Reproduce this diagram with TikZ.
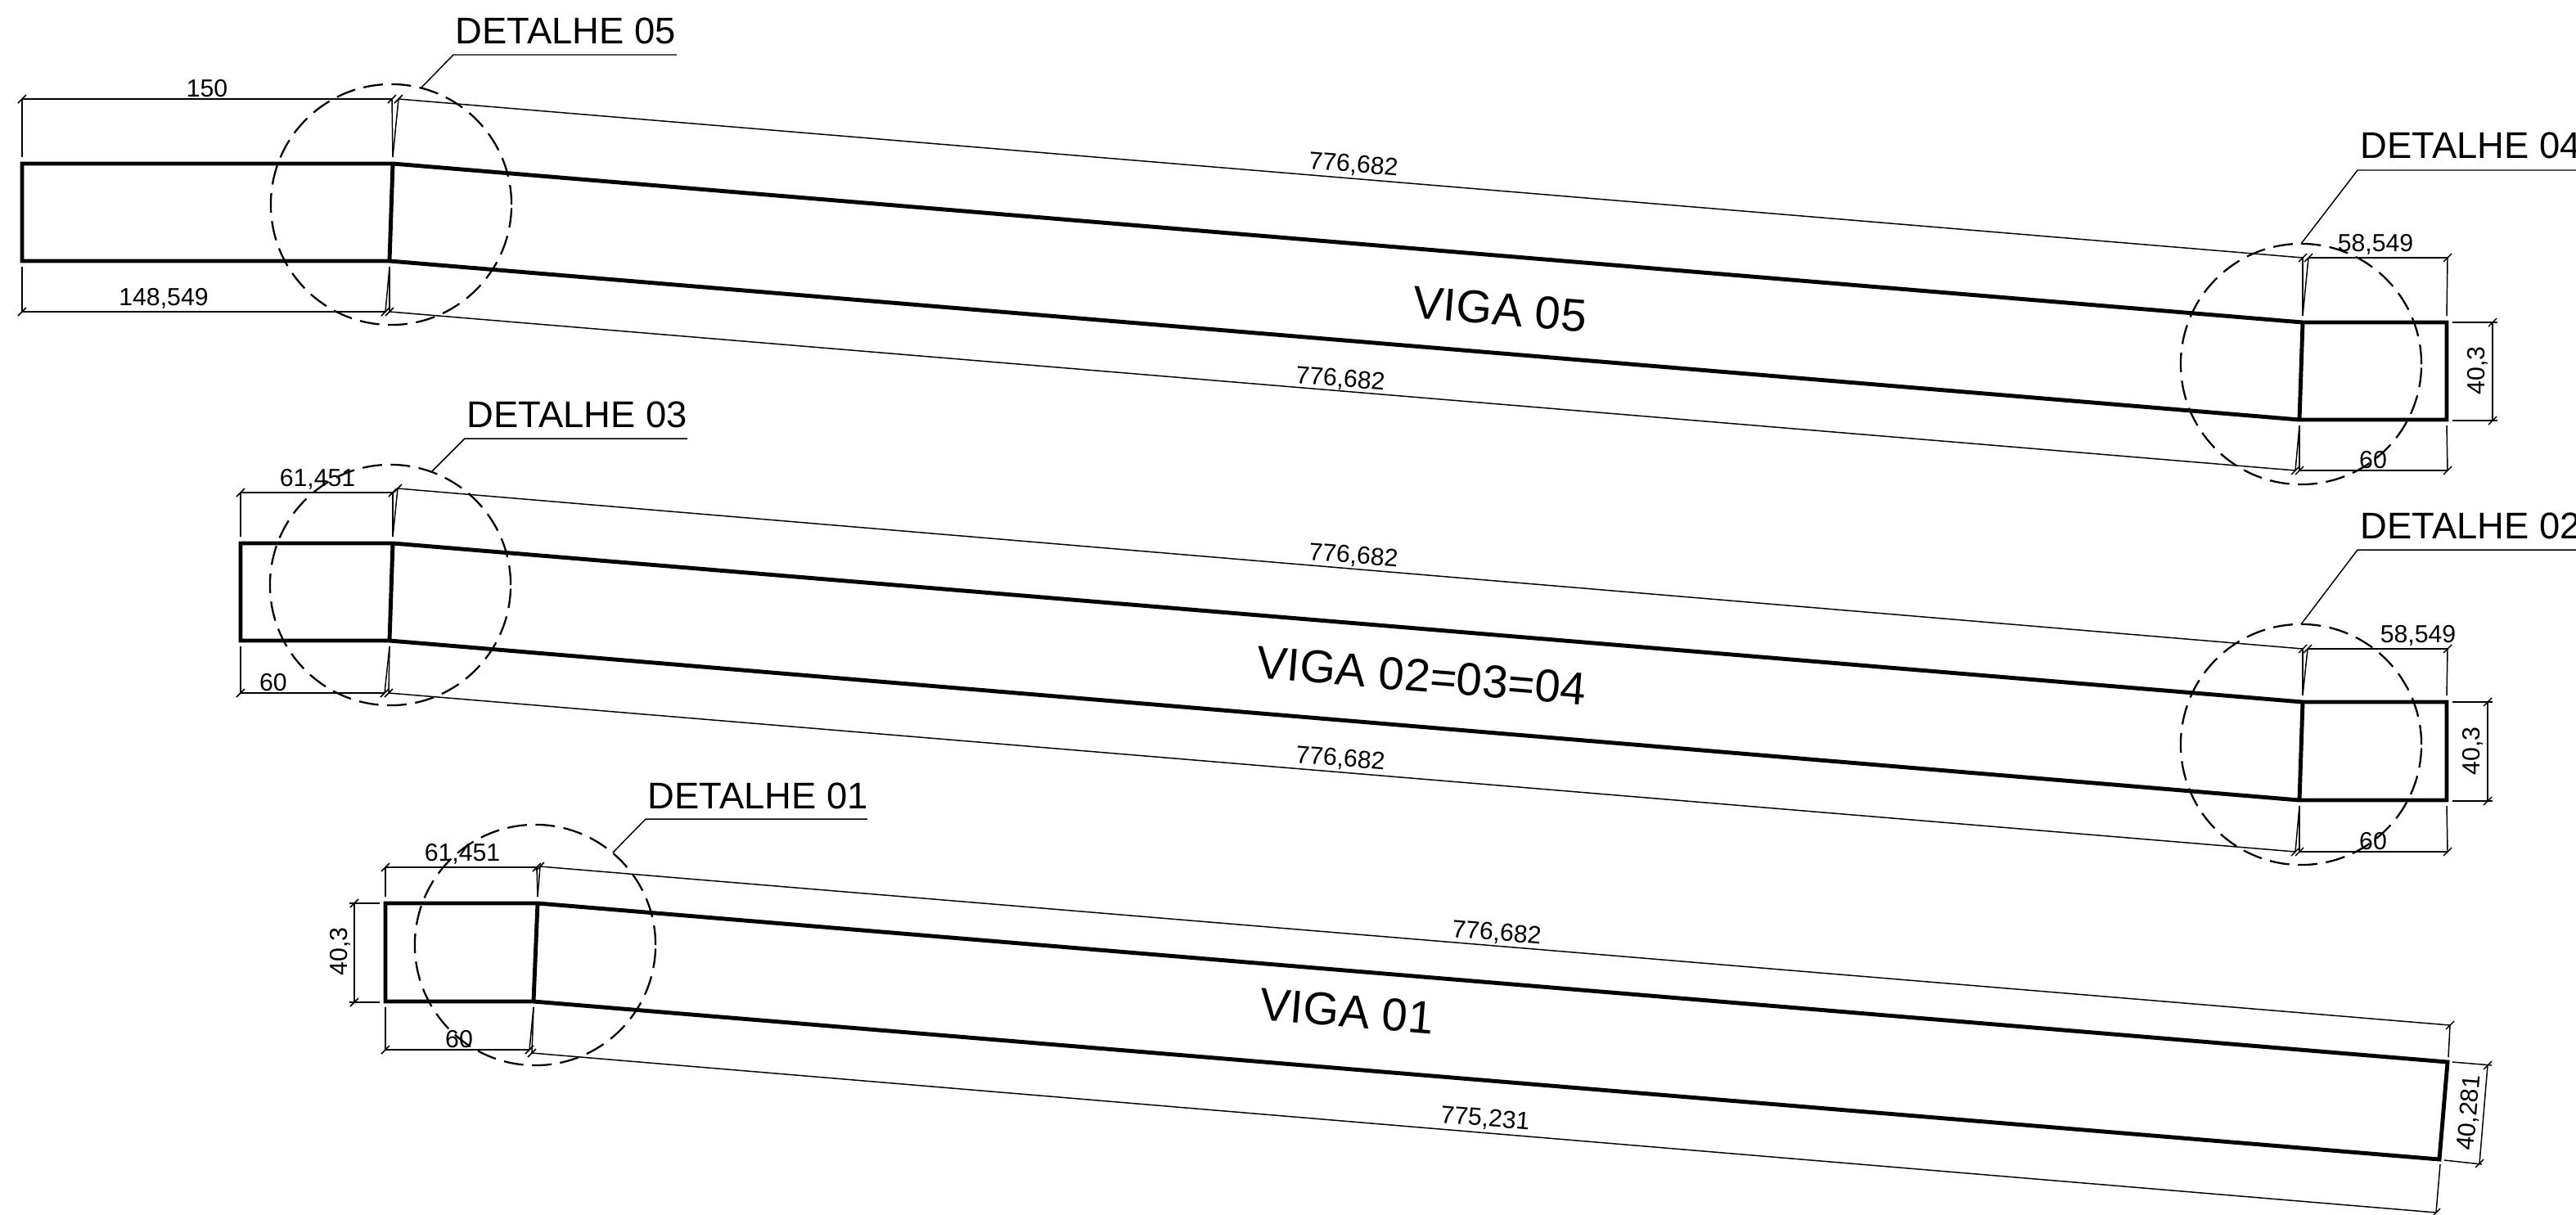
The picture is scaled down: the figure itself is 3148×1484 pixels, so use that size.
\documentclass[tikz,border=0pt]{standalone}
\usepackage{fontspec}
\setmainfont{Liberation Sans}
\usetikzlibrary{calc}
\tikzset{
  beamline/.style={line width=1.4pt,line join=miter},
  thinline/.style={line width=0.42pt},
  detailring/.style={line width=0.65pt,dash pattern=on 6.8pt off 3pt},
  dimtext/.style={font=\fontsize{8.6}{10}\selectfont,inner sep=0pt},
  detailtext/.style={font=\fontsize{12.9}{15}\selectfont,inner sep=0pt,anchor=base west},
  beamtext/.style={font=\fontsize{16}{19}\selectfont,inner sep=0pt,rotate=-4.77}
}
\newcommand{\dimtick}[1]{\draw[thinline] ($(#1)+(-5,5)$) -- ($(#1)+(5,-5)$);}
\begin{document}
\begin{tikzpicture}[x=0.01cm,y=-0.01cm]
  \useasboundingbox (0,0) rectangle (3148,1484);
  % beam 05
  \coordinate (v5tl) at (27,200);
  \coordinate (v5tk) at (480,200);
  \coordinate (v5tr) at (2814,394);
  \coordinate (v5te) at (2990,394);
  \coordinate (v5be) at (2990,513);
  \coordinate (v5br) at (2810,513);
  \coordinate (v5bk) at (476,319);
  \coordinate (v5bl) at (27,319);
  \draw[beamline] (v5tl) -- (v5tk) -- (v5tr) -- (v5te) -- (v5be) -- (v5br) -- (v5bk) -- (v5bl) -- cycle;
  \draw[beamline] (v5tk) -- (v5bk);
  \draw[beamline] (v5tr) -- (v5br);
  \coordinate (d5a) at (27,121);
  \coordinate (d5b) at (479,121);
  \coordinate (d5c) at (487,121);
  \coordinate (d5d) at (2814,315);
  \coordinate (d5e) at (2821,315);
  \coordinate (d5f) at (2991,315);
  \coordinate (d5g) at (27,381);
  \coordinate (d5h) at (471,381);
  \coordinate (d5i) at (476,381);
  \coordinate (d5j) at (2805,575);
  \coordinate (d5k) at (2810,575);
  \coordinate (d5m) at (2991,575);
  \coordinate (d5n) at (3046,394);
  \coordinate (d5o) at (3046,514);
  \begin{scope}[thinline]
    \draw (d5a) -- (d5b);
    \draw (d5c) -- (d5d);
    \draw (d5e) -- (d5f);
    \draw (d5g) -- (d5h);
    \draw (d5i) -- (d5j);
    \draw (d5k) -- (d5m);
    \draw (d5n) -- (d5o);
    \draw (d5a) -- ($(v5tl)+(0,-8)$);
    \draw (d5b) -- ($(v5tk)+(0,-8)$);
    \draw (d5c) -- ($(v5tk)+(0,-8)$);
    \draw (d5d) -- ($(v5tr)+(0,-8)$);
    \draw (d5e) -- ($(v5tr)+(0,-8)$);
    \draw (d5f) -- ($(v5te)+(0,-8)$);
    \draw (d5g) -- ($(v5bl)+(0,7)$);
    \draw (d5h) -- ($(v5bk)+(0,7)$);
    \draw (d5i) -- ($(v5bk)+(0,7)$);
    \draw (d5j) -- ($(v5br)+(0,7)$);
    \draw (d5k) -- ($(v5br)+(0,7)$);
    \draw (d5m) -- ($(v5be)+(0,7)$);
    \draw ($(v5te)+(7,0)$) -- ($(d5n)+(6,0)$);
    \draw ($(v5be)+(7,1)$) -- ($(d5o)+(6,0)$);
  \end{scope}
  \foreach \p in {d5a,d5b,d5c,d5d,d5e,d5f,d5g,d5h,d5i,d5j,d5k,d5m,d5n,d5o} {\dimtick{\p}}
  % beam 02=03=04
  \coordinate (v3tl) at (294,664);
  \coordinate (v3tk) at (480,664);
  \coordinate (v3tr) at (2814,858);
  \coordinate (v3te) at (2990,858);
  \coordinate (v3be) at (2990,978);
  \coordinate (v3br) at (2810,978);
  \coordinate (v3bk) at (476,783);
  \coordinate (v3bl) at (294,783);
  \draw[beamline] (v3tl) -- (v3tk) -- (v3tr) -- (v3te) -- (v3be) -- (v3br) -- (v3bk) -- (v3bl) -- cycle;
  \draw[beamline] (v3tk) -- (v3bk);
  \draw[beamline] (v3tr) -- (v3br);
  \coordinate (d3a) at (294,602);
  \coordinate (d3b) at (480,602);
  \coordinate (d3c) at (486,597);
  \coordinate (d3d) at (2814,793);
  \coordinate (d3e) at (2820,793);
  \coordinate (d3f) at (2991,793);
  \coordinate (d3g) at (294,847);
  \coordinate (d3h) at (470,847);
  \coordinate (d3i) at (475,847);
  \coordinate (d3j) at (2805,1041);
  \coordinate (d3k) at (2810,1041);
  \coordinate (d3m) at (2991,1041);
  \coordinate (d3n) at (3040,858);
  \coordinate (d3o) at (3040,979);
  \begin{scope}[thinline]
    \draw (d3a) -- (d3b);
    \draw (d3c) -- (d3d);
    \draw (d3e) -- (d3f);
    \draw (d3g) -- (d3h);
    \draw (d3i) -- (d3j);
    \draw (d3k) -- (d3m);
    \draw (d3n) -- (d3o);
    \draw (d3a) -- ($(v3tl)+(0,-8)$);
    \draw (d3b) -- ($(v3tk)+(0,-8)$);
    \draw (d3c) -- ($(v3tk)+(0,-8)$);
    \draw (d3d) -- ($(v3tr)+(0,-8)$);
    \draw (d3e) -- ($(v3tr)+(0,-8)$);
    \draw (d3f) -- ($(v3te)+(0,-8)$);
    \draw (d3g) -- ($(v3bl)+(0,7)$);
    \draw (d3h) -- ($(v3bk)+(0,7)$);
    \draw (d3i) -- ($(v3bk)+(0,7)$);
    \draw (d3j) -- ($(v3br)+(0,7)$);
    \draw (d3k) -- ($(v3br)+(0,7)$);
    \draw (d3m) -- ($(v3be)+(0,7)$);
    \draw ($(v3te)+(7,0)$) -- ($(d3n)+(6,0)$);
    \draw ($(v3be)+(7,1)$) -- ($(d3o)+(6,0)$);
  \end{scope}
  \foreach \p in {d3a,d3b,d3c,d3d,d3e,d3f,d3g,d3h,d3i,d3j,d3k,d3m,d3n,d3o} {\dimtick{\p}}
  % beam 01
  \coordinate (v1tl) at (471,1104);
  \coordinate (v1tk) at (657,1104);
  \coordinate (v1te) at (2991,1298);
  \coordinate (v1be) at (2981,1417);
  \coordinate (v1bk) at (652,1224);
  \coordinate (v1bl) at (471,1224);
  \draw[beamline] (v1tl) -- (v1tk) -- (v1te) -- (v1be) -- (v1bk) -- (v1bl) -- cycle;
  \draw[beamline] (v1tk) -- (v1bk);
  \coordinate (d1a) at (471,1060);
  \coordinate (d1b) at (656,1060);
  \coordinate (d1c) at (660,1059);
  \coordinate (d1d) at (2994,1253);
  \coordinate (d1g) at (471,1283);
  \coordinate (d1h) at (647,1283);
  \coordinate (d1i) at (650,1287);
  \coordinate (d1j) at (2977,1482);
  \coordinate (d1n) at (433,1104);
  \coordinate (d1o) at (433,1225);
  \coordinate (d1p) at (3040,1302);
  \coordinate (d1q) at (3030,1422);
  \begin{scope}[thinline]
    \draw (d1a) -- (d1b);
    \draw (d1c) -- (d1d);
    \draw (d1g) -- (d1h);
    \draw (d1i) -- (d1j);
    \draw (d1n) -- (d1o);
    \draw (d1p) -- (d1q);
    \draw (d1a) -- ($(v1tl)+(0,-8)$);
    \draw (d1b) -- ($(v1tk)+(0,-8)$);
    \draw (d1c) -- ($(v1tk)+(0,-8)$);
    \draw (d1d) -- ($(v1te)+(1,-6)$);
    \draw (d1g) -- ($(v1bl)+(0,7)$);
    \draw (d1h) -- ($(v1bk)+(0,7)$);
    \draw (d1i) -- ($(v1bk)+(0,7)$);
    \draw (d1j) -- ($(v1be)+(1,6)$);
    \draw ($(v1tl)+(-7,0)$) -- ($(d1n)+(-6,0)$);
    \draw ($(v1bl)+(-7,1)$) -- ($(d1o)+(-6,0)$);
    \draw ($(v1te)+(6,0)$) -- ($(d1p)+(5,0)$);
    \draw ($(v1be)+(6,1)$) -- ($(d1q)+(3,1)$);
  \end{scope}
  \foreach \p in {d1a,d1b,d1c,d1d,d1g,d1h,d1i,d1j,d1n,d1o,d1p,d1q} {\dimtick{\p}}
  % detail rings
  \coordinate (r5) at (478,250);
  \coordinate (r4) at (2812,445);
  \coordinate (r3) at (477,715);
  \coordinate (r2) at (2812,910);
  \coordinate (r1) at (654,1155);
  \draw[detailring] (r5) circle [radius=1.47cm];
  \draw[detailring] (r4) circle [radius=1.47cm];
  \draw[detailring] (r3) circle [radius=1.47cm];
  \draw[detailring] (r2) circle [radius=1.47cm];
  \draw[detailring] (r1) circle [radius=1.47cm];
  % leaders
  \coordinate (k5a) at (514,108);
  \coordinate (k5b) at (554,67);
  \coordinate (k5c) at (827,67);
  \coordinate (k4a) at (2812,298);
  \coordinate (k4b) at (2881,208);
  \coordinate (k4c) at (3148,208);
  \coordinate (k3a) at (528,576);
  \coordinate (k3b) at (568,536);
  \coordinate (k3c) at (840,536);
  \coordinate (k2a) at (2812,763);
  \coordinate (k2b) at (2881,672);
  \coordinate (k2c) at (3148,672);
  \coordinate (k1a) at (749,1042);
  \coordinate (k1b) at (789,1001);
  \coordinate (k1c) at (1060,1001);
  \draw[thinline] (k5a) -- (k5b) -- (k5c);
  \draw[thinline] (k4a) -- (k4b) -- (k4c);
  \draw[thinline] (k3a) -- (k3b) -- (k3c);
  \draw[thinline] (k2a) -- (k2b) -- (k2c);
  \draw[thinline] (k1a) -- (k1b) -- (k1c);
  % labels
  \node[detailtext] (t05) at (556,53) {DETALHE 05};
  \node[detailtext] (t04) at (2884,193) {DETALHE 04};
  \node[detailtext] (t03) at (570,522) {DETALHE 03};
  \node[detailtext] (t02) at (2884,658) {DETALHE 02};
  \node[detailtext] (t01) at (791,988) {DETALHE 01};
  \node[beamtext] (b05) at (1833,378) {VIGA 05};
  \node[beamtext] (b03) at (1737,826) {VIGA 02=03=04};
  \node[beamtext] (b01) at (1646,1236) {VIGA 01};
  \node[dimtext] (m51) at (253,108) {150};
  \node[dimtext] (m52) at (200,365) {148,549};
  \node[dimtext,rotate=-4.77] (m53) at (1654,202) {776,682};
  \node[dimtext,rotate=-4.77] (m54) at (1638,464) {776,682};
  \node[dimtext] (m55) at (2903,299) {58,549};
  \node[dimtext] (m56) at (2900,562) {60};
  \node[dimtext,rotate=90] (m57) at (3028,453) {40,3};
  \node[dimtext] (m31) at (388,586) {61,451};
  \node[dimtext] (m32) at (334,834) {60};
  \node[dimtext,rotate=-4.77] (m33) at (1654,680) {776,682};
  \node[dimtext,rotate=-4.77] (m34) at (1638,928) {776,682};
  \node[dimtext] (m35) at (2955,777) {58,549};
  \node[dimtext] (m36) at (2900,1028) {60};
  \node[dimtext,rotate=90] (m37) at (3022,918) {40,3};
  \node[dimtext] (m11) at (565,1044) {61,451};
  \node[dimtext] (m12) at (561,1270) {60};
  \node[dimtext,rotate=90] (m13) at (416,1163) {40,3};
  \node[dimtext,rotate=-4.77] (m14) at (1829,1141) {776,682};
  \node[dimtext,rotate=-4.77] (m15) at (1815,1368) {775,231};
  \node[dimtext,rotate=85.2] (m16) at (3018,1360) {40,281};
\end{tikzpicture}
\end{document}
